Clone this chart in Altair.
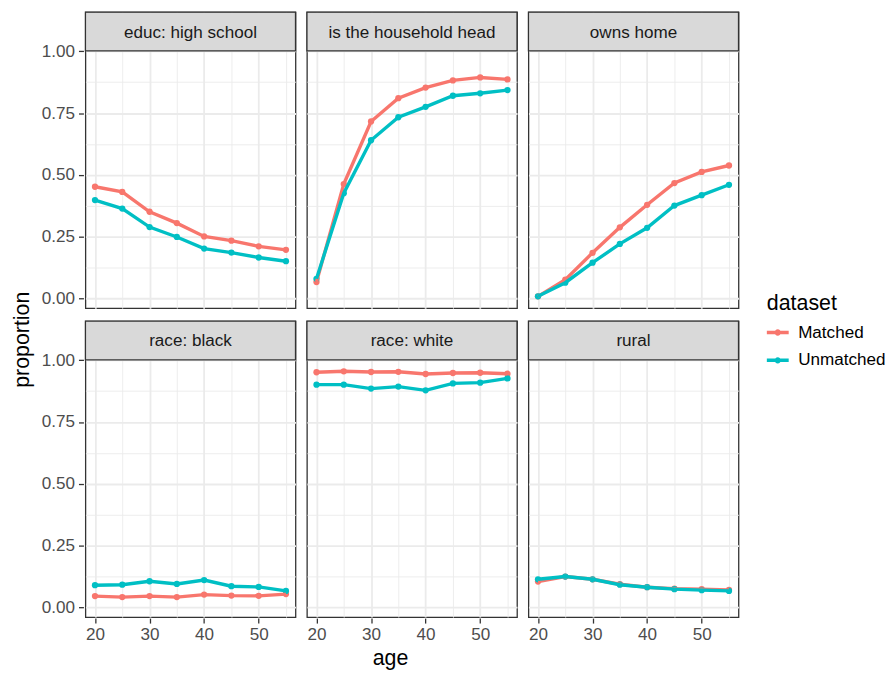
import altair as alt
import pandas as pd

FONT = "Liberation Sans"

# x positions (age) shared by every panel
ages = [20, 25, 30, 35, 40, 45, 50, 55]

# facet labels
panels = [
    "educ: high school",
    "is the household head",
    "owns home",
    "race: black",
    "race: white",
    "rural",
]

# proportion by age, matched sample
matched_educ_hs = [0.452, 0.431, 0.351, 0.305, 0.251, 0.234, 0.211, 0.197]
matched_hh_head = [0.067, 0.463, 0.716, 0.810, 0.853, 0.882, 0.894, 0.886]
matched_owns_home = [0.009, 0.076, 0.185, 0.288, 0.379, 0.467, 0.512, 0.538]
matched_black = [0.046, 0.042, 0.046, 0.042, 0.052, 0.048, 0.047, 0.054]
matched_white = [0.951, 0.955, 0.952, 0.953, 0.944, 0.948, 0.949, 0.945]
matched_rural = [0.105, 0.125, 0.114, 0.094, 0.082, 0.076, 0.074, 0.071]

# proportion by age, unmatched sample
unmatched_educ_hs = [0.398, 0.364, 0.289, 0.249, 0.202, 0.186, 0.166, 0.151]
unmatched_hh_head = [0.080, 0.426, 0.640, 0.733, 0.775, 0.820, 0.830, 0.843]
unmatched_owns_home = [0.009, 0.064, 0.145, 0.221, 0.286, 0.376, 0.418, 0.460]
unmatched_black = [0.090, 0.092, 0.106, 0.095, 0.111, 0.086, 0.083, 0.067]
unmatched_white = [0.901, 0.901, 0.885, 0.893, 0.878, 0.906, 0.909, 0.926]
unmatched_rural = [0.114, 0.125, 0.114, 0.092, 0.082, 0.074, 0.070, 0.067]

datasets = ["Matched", "Unmatched"]
colors = ["#F8766D", "#00BFC4"]

series = {
    "Matched": [matched_educ_hs, matched_hh_head, matched_owns_home,
                matched_black, matched_white, matched_rural],
    "Unmatched": [unmatched_educ_hs, unmatched_hh_head, unmatched_owns_home,
                  unmatched_black, unmatched_white, unmatched_rural],
}

rows = []
for ds in datasets:
    for panel, vals in zip(panels, series[ds]):
        for a, v in zip(ages, vals):
            rows.append({"panel": panel, "dataset": ds, "age": a, "proportion": v})
df = pd.DataFrame(rows)

# panel geometry (pixels): strip on top of the plotting area
W, H, STRIP = 211.5, 298, 39
PX_PER_UNIT = 249
Y_LO = -0.039
Y_HI = Y_LO + H / PX_PER_UNIT

x_enc = alt.X(
    "age:Q",
    scale=alt.Scale(domain=[18.25, 56.75], nice=False, zero=False),
    axis=alt.Axis(
        values=ages,
        title=None,
        labelExpr="datum.value % 10 == 0 ? datum.label : ''",
        tickOpacity={"condition": {"test": "datum.value % 10 != 0", "value": 0}, "value": 1},
        gridWidth={"condition": {"test": "datum.value % 10 != 0", "value": 0.9}, "value": 1.8},
        labelPadding=3,
    ),
)
y_ticks = [0, 0.125, 0.25, 0.375, 0.5, 0.625, 0.75, 0.875, 1.0]
y_enc = alt.Y(
    "proportion:Q",
    scale=alt.Scale(domain=[Y_LO, Y_HI], nice=False, zero=False),
    axis=alt.Axis(
        values=y_ticks,
        title=None,
        labelExpr="datum.value % 0.25 == 0 ? format(datum.value, '.2f') : ''",
        tickOpacity={"condition": {"test": "datum.value % 0.25 != 0", "value": 0}, "value": 1},
        gridWidth={"condition": {"test": "datum.value % 0.25 != 0", "value": 0.9}, "value": 1.8},
        labelPadding=4,
    ),
)

color_scale = alt.Scale(domain=datasets, range=colors)

# legend key: a short line segment with a dot in the middle
KEY = ("M-1,-0.16H1V0.16H-1Z "
       "M0,-0.29A0.29,0.29,0,1,1,0,0.29A0.29,0.29,0,1,1,0,-0.29Z")

legend = alt.Legend(
    title="dataset",
    symbolType=KEY,
    symbolSize=484,
    symbolStrokeWidth=0,
    symbolOpacity=1,
    labelFont=FONT, labelFontSize=17.2, labelColor="#000000",
    titleFont=FONT, titleFontSize=21.5, titleFontWeight="normal",
    titleColor="#000000", titlePadding=7,
    rowPadding=8, labelOffset=9.5,
    orient="none", legendX=686, legendY=283,
)

color_enc = alt.Color("dataset:N", scale=color_scale, legend=legend)

base = alt.Chart(df)

points = base.mark_circle(size=40, opacity=1).encode(x=x_enc, y=y_enc, color=color_enc)
lines = base.mark_line(strokeWidth=3.4).encode(x=x_enc, y=y_enc, color=color_enc)

one_row = "datum.age == 20 && datum.dataset == 'Matched'"
strip_bg = base.transform_filter(one_row).mark_rect(
    fill="#D9D9D9", stroke="#333333", strokeWidth=1.3
).encode(x=alt.value(0), x2=alt.value(W), y=alt.value(0), y2=alt.value(STRIP))

strip_txt = base.transform_filter(one_row).mark_text(
    font=FONT, fontSize=17.2, color="#1A1A1A"
).encode(x=alt.value(W / 2), y=alt.value(STRIP / 2 + 1), text="panel:N")

panel = alt.layer(points, lines, strip_bg, strip_txt).properties(width=W, height=H)

faceted = panel.facet(
    facet=alt.Facet(
        "panel:N", sort=panels,
        header=alt.Header(labels=False, labelExpr="''", labelPadding=0, labelFontSize=1),
    ),
    columns=3,
    spacing={"row": 9, "column": 8},
).properties(
    title=alt.TitleParams(
        "age", orient="bottom", anchor="middle", font=FONT, fontSize=21.5,
        fontWeight="normal", color="#000000", offset=5,
    )
)

chart = alt.hconcat(faceted).properties(
    title=alt.TitleParams(
        "proportion", orient="left", anchor="middle", font=FONT, fontSize=21.5,
        fontWeight="normal", color="#000000", offset=8,
    ),
    padding={"left": 12, "top": 7, "right": 5, "bottom": 5},
).configure_view(
    stroke="#333333", strokeWidth=1.3
).configure_axis(
    labelFont=FONT, labelFontSize=17.2, labelColor="#4D4D4D",
    tickColor="#333333", tickWidth=1.3, tickSize=5,
    gridColor="#EBEBEB", domain=False,
).configure_header(
    labels=False, labelFontSize=1, labelPadding=0, title=None
).configure_concat(spacing=0)

chart.save("out.html", embed_options={"renderer": "svg", "actions": False})
